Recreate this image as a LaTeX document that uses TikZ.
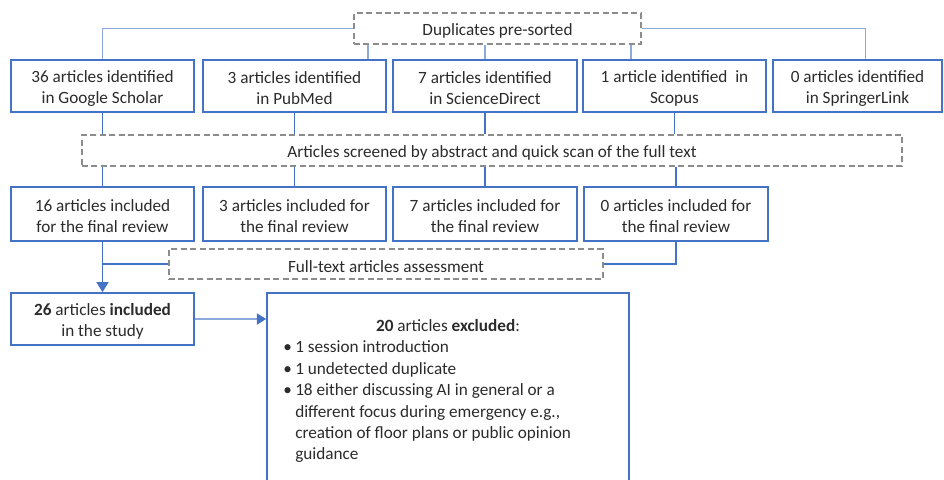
\documentclass[tikz,border=0pt]{standalone}
\usepackage{fontspec}
\setmainfont{Carlito}
\usetikzlibrary{arrows.meta}
\definecolor{boxblue}{HTML}{4472C4}
\definecolor{lineblue}{HTML}{8EA9DB}
\definecolor{dashgray}{HTML}{8C8C8C}
\definecolor{txt}{HTML}{2B2B2B}
\tikzset{
  every node/.style={font=\fontsize{12.9pt}{15.75pt}\selectfont, text=txt},
  bbox/.style={draw=boxblue, line width=1.3pt, inner sep=0pt, align=center},
  dbox/.style={draw=dashgray, line width=1pt, dash pattern=on 4.5pt off 2.6pt, inner sep=0pt, align=center},
  conn/.style={draw=boxblue, line width=1.2pt},
  lconn/.style={draw=lineblue, line width=0.8pt},
  tline/.style={anchor=base west, inner sep=0pt},
}
% \boxnode{style}{name}{x1}{y1}{x2}{y2}{text}
\newcommand\boxnode[7]{\node[#1, minimum width={(#5-#3)*0.75pt}, minimum height={(#6-#4)*0.75pt}] (#2) at ({(#3+#5)/2},{(#4+#6)/2}) {\rule{0pt}{12.6pt}#7};}
\begin{document}
\begin{tikzpicture}[x=0.75pt, y=-0.75pt]
\useasboundingbox (0,0) rectangle (944,479);
\clip (0,0) rectangle (944,479);
% nodes
\boxnode{dbox}{dup}{354}{13}{641}{44}{Duplicates pre-sorted}
\boxnode{bbox}{g}{11}{60}{194}{112}{36 articles identified\\in Google Scholar}
\boxnode{bbox}{pm}{203}{60}{386}{112}{3 articles identified\\in PubMed}
\boxnode{bbox}{sd}{393}{60}{577}{112}{7 articles identified\\in ScienceDirect}
\boxnode{bbox}{sc}{583}{60}{766}{112}{1 article identified\ \ in\\Scopus}
\boxnode{bbox}{sl}{773}{60}{942}{112}{0 articles identified\\in SpringerLink}
\boxnode{dbox}{scr}{82}{135}{902}{166}{Articles screened by abstract and quick scan of the full text}
\boxnode{bbox}{r1}{11}{187}{194}{241}{16 articles included\\for the final review}
\boxnode{bbox}{r2}{203}{187}{386}{241}{3 articles included for\\the final review}
\boxnode{bbox}{r3}{393}{187}{577}{241}{7 articles included for\\the final review}
\boxnode{bbox}{r4}{584}{187}{768}{241}{0 articles included for\\the final review}
\boxnode{dbox}{ft}{169}{249}{603}{279}{Full-text articles assessment}
\boxnode{bbox}{inc}{11}{293}{194}{345}{\textbf{26} articles \textbf{included}\\in the study}
\node[draw=boxblue, line width=1.3pt, inner sep=0pt, minimum width={362*0.75pt}, minimum height={207*0.75pt}] (ex) at (448,396.5) {};
% excluded text
\node[anchor=base, inner sep=0pt] (ex0) at (448,331) {\textbf{20} articles \textbf{excluded}:};
\node[tline] (ex1) at (283,352) {\makebox[9pt][l]{•}1 session introduction};
\node[tline] (ex2) at (283,374) {\makebox[9pt][l]{•}1 undetected duplicate};
\node[tline] (ex3) at (283,395) {\makebox[9pt][l]{•}18 either discussing AI in general or a};
\node[tline] (ex4) at (295,417) {different focus during emergency e.g.,};
\node[tline] (ex5) at (295,438) {creation of floor plans or public opinion};
\node[tline] (ex6) at (295,459) {guidance};
% helper coordinates
\coordinate (c1) at (368,0);
\coordinate (c2) at (631,0);
% duplicates connectors
\draw[lconn] (dup.west) -| (g.north);
\draw[lconn] (dup.east) -| ([xshift=6pt]sl.north);
\draw[lconn] (dup.south -| c1) -- (pm.north -| c1);
\draw[lconn] (dup.south -| sd.north) -- (sd.north);
\draw[lconn] (dup.south -| c2) -- (sc.north -| c2);
% to screening
\foreach \n in {g,pm,sd,sc} \draw[conn] (\n.south) -- (\n.south |- scr.north);
\foreach \n in {r1,r2,r3,r4} \draw[conn] (scr.south -| \n.north) -- (\n.north);
% full text
\draw[conn, -{Triangle[width=9pt,length=7.5pt]}] (r1.south) -- (inc.north);
\draw[conn] (r1.south |- ft.west) -- (ft.west);
\draw[conn] (r4.south) |- (ft.east);
\draw[lconn, -{Triangle[width=8.5pt,length=7pt,color=boxblue]}] (inc.east) -- (inc.east -| ex.west);
\end{tikzpicture}
\end{document}
